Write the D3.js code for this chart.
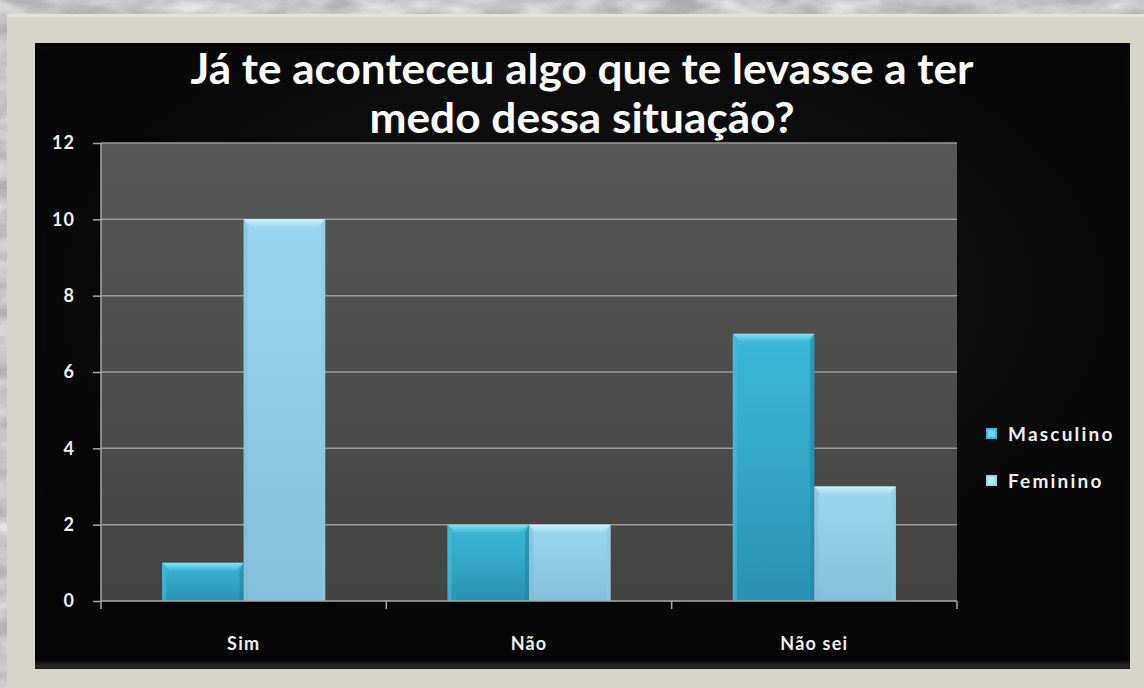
<!DOCTYPE html>
<html>
<head>
<meta charset="utf-8">
<script src="https://cdn.jsdelivr.net/npm/d3@7/dist/d3.min.js"></script>
<style>
  html, body { margin: 0; padding: 0; background: #a9a9a9; }
  svg { display: block; }
  text { font-family: Lato, "Open Sans", sans-serif; }
</style>
</head>
<body>
<svg id="chart" width="1144" height="688"></svg>
<script>
// Survey answers by gender
const categories = ["Sim", "Não", "Não sei"];
const series = ["Masculino", "Feminino"];
const masculino = [1, 2, 7];
const feminino = [10, 2, 3];
const yTicks = [0, 2, 4, 6, 8, 10, 12];
const titleLines = ["Já te aconteceu algo que te levasse a ter", "medo dessa situação?"];

const W = 1144, H = 688;
const plot = { left: 101, right: 957, top: 143, bottom: 601 };

const svg = d3.select("#chart");
const defs = svg.append("defs");

// marbled backdrop texture
const marble = defs.append("filter").attr("id", "marble")
  .attr("x", 0).attr("y", 0).attr("width", "100%").attr("height", "100%");
marble.append("feTurbulence").attr("type", "fractalNoise")
  .attr("baseFrequency", "0.02 0.05").attr("numOctaves", 4).attr("seed", 7).attr("result", "n");
marble.append("feColorMatrix").attr("in", "n").attr("type", "matrix")
  .attr("values", "0 0 0 0 0.9  0 0 0 0 0.9  0 0 0 0 0.9  0 0 0 -1.3 1.0");
svg.append("rect").attr("width", W).attr("height", H).attr("fill", "#adadad");
svg.append("rect").attr("width", W).attr("height", H).attr("fill", "#fff").attr("filter", "url(#marble)");

// light frame and black chart panel
svg.append("rect").attr("x", 7).attr("y", 14).attr("width", W - 7).attr("height", H - 14).attr("fill", "#d7d4cc");
svg.append("rect").attr("x", 7).attr("y", 14).attr("width", W - 7).attr("height", 3).attr("fill", "#e6e3dc");

const panel = { x: 35, y: 43, w: 1095, h: 626 };
svg.append("rect").attr("x", panel.x).attr("y", panel.y).attr("width", panel.w).attr("height", panel.h).attr("fill", "#060606");
const bottomGrad = defs.append("linearGradient").attr("id", "bottomGrad").attr("x1", 0).attr("y1", 0).attr("x2", 0).attr("y2", 1);
bottomGrad.append("stop").attr("offset", "0").attr("stop-color", "#060606");
bottomGrad.append("stop").attr("offset", "0.7").attr("stop-color", "#2a2a2a");
bottomGrad.append("stop").attr("offset", "1").attr("stop-color", "#1a1a1a");
svg.append("rect").attr("x", panel.x).attr("y", panel.y + panel.h - 9).attr("width", panel.w).attr("height", 9).attr("fill", "url(#bottomGrad)");
const innerGrad = defs.append("radialGradient").attr("id", "innerGrad").attr("cx", 0.5).attr("cy", 0.4).attr("r", 0.6);
innerGrad.append("stop").attr("offset", "0").attr("stop-color", "#161616");
innerGrad.append("stop").attr("offset", "1").attr("stop-color", "#050505");
svg.append("rect").attr("x", panel.x + 8).attr("y", panel.y + 8).attr("width", panel.w - 16).attr("height", panel.h - 20).attr("fill", "url(#innerGrad)");

// plot area background
const plotGrad = defs.append("linearGradient").attr("id", "plotGrad").attr("x1", 0).attr("y1", 0).attr("x2", 0).attr("y2", 1);
plotGrad.append("stop").attr("offset", "0").attr("stop-color", "#575757");
plotGrad.append("stop").attr("offset", "1").attr("stop-color", "#434343");
svg.append("rect").attr("x", plot.left).attr("y", plot.top)
  .attr("width", plot.right - plot.left).attr("height", plot.bottom - plot.top).attr("fill", "url(#plotGrad)");

// scales
const x0 = d3.scaleBand().domain(categories).range([plot.left, plot.right]).paddingInner(0).paddingOuter(0);
const gapRatio = 1.5;
const groupW = x0.bandwidth() * series.length / (series.length + gapRatio);
const x1 = d3.scaleBand().domain(series)
  .range([(x0.bandwidth() - groupW) / 2, (x0.bandwidth() + groupW) / 2]).padding(0);
const y = d3.scaleLinear().domain([0, 12]).range([plot.bottom, plot.top]);

// gridlines
svg.append("g").selectAll("line").data(yTicks.filter(t => t > 0)).join("line")
  .attr("x1", plot.left).attr("x2", plot.right)
  .attr("y1", d => y(d)).attr("y2", d => y(d))
  .attr("stroke", "#9a9a9a").attr("stroke-width", 1.5);

// bar fills
const palettes = {
  Masculino: { top: "#3cb8d8", bottom: "#2a92b2", edgeL: "#43bfdd", edgeR: "#2384a3", bevel: "#7fe6f7" },
  Feminino:  { top: "#9ad6f0", bottom: "#84c0da", edgeL: "#7fbcd6", edgeR: "#8ec9e2", bevel: "#c9f4fd" }
};
series.forEach((s, i) => {
  const p = palettes[s];
  const g = defs.append("linearGradient").attr("id", "bar" + i).attr("x1", 0).attr("y1", 0).attr("x2", 0).attr("y2", 1);
  g.append("stop").attr("offset", "0").attr("stop-color", p.top);
  g.append("stop").attr("offset", "1").attr("stop-color", p.bottom);
  const b = defs.append("linearGradient").attr("id", "bev" + i).attr("x1", 0).attr("y1", 0).attr("x2", 0).attr("y2", 1);
  b.append("stop").attr("offset", "0").attr("stop-color", p.bevel);
  b.append("stop").attr("offset", "1").attr("stop-color", p.top);
});

const values = { Masculino: masculino, Feminino: feminino };
const bars = [];
categories.forEach((c, ci) => {
  series.forEach((s, si) => bars.push({ c, s, si, v: values[s][ci] }));
});

const bevel = 8;
const barG = svg.append("g");
bars.forEach(d => {
  const p = palettes[d.s];
  const bx = x0(d.c) + x1(d.s);
  const bw = x1.bandwidth();
  const by = y(d.v);
  const bh = y(0) - by;
  const g = barG.append("g");
  g.append("rect").attr("x", bx).attr("y", by).attr("width", bw).attr("height", bh).attr("fill", "url(#bar" + d.si + ")");
  // side bevels
  g.append("polygon").attr("points", [[bx, by], [bx + 4, by + bevel], [bx + 4, y(0)], [bx, y(0)]].join(" "))
    .attr("fill", p.edgeL).attr("opacity", 0.6);
  g.append("polygon").attr("points", [[bx + bw, by], [bx + bw - 4, by + bevel], [bx + bw - 4, y(0)], [bx + bw, y(0)]].join(" "))
    .attr("fill", p.edgeR).attr("opacity", 0.6);
  // top bevel
  g.append("polygon").attr("points", [[bx, by], [bx + bw, by], [bx + bw - bevel, by + bevel], [bx + bevel, by + bevel]].join(" "))
    .attr("fill", "url(#bev" + d.si + ")");
});

// axes
const axisColor = "#a8a8a8";
svg.append("line").attr("x1", plot.left).attr("x2", plot.left).attr("y1", plot.top).attr("y2", plot.bottom + 8)
  .attr("stroke", axisColor).attr("stroke-width", 1.5);
svg.append("line").attr("x1", plot.left).attr("x2", plot.right).attr("y1", plot.bottom).attr("y2", plot.bottom)
  .attr("stroke", axisColor).attr("stroke-width", 1.5);

const yAxis = d3.axisLeft(y).tickValues(yTicks).tickSize(8).tickPadding(18).tickFormat(d3.format("d"));
const yg = svg.append("g").attr("transform", `translate(${plot.left},0)`).call(yAxis);
yg.select(".domain").remove();
yg.selectAll(".tick line").attr("stroke", axisColor).attr("stroke-width", 1.5);
yg.selectAll(".tick text").attr("fill", "#f0f0f0").attr("font-size", 18).attr("font-weight", 700)
  .attr("font-family", "Lato, sans-serif").attr("letter-spacing", 1);

// category boundary ticks
svg.append("g").selectAll("line").data(categories).join("line")
  .attr("x1", d => x0(d) + x0.bandwidth()).attr("x2", d => x0(d) + x0.bandwidth())
  .attr("y1", plot.bottom).attr("y2", plot.bottom + 8)
  .attr("stroke", axisColor).attr("stroke-width", 1.5);

svg.append("g").selectAll("text").data(categories).join("text")
  .attr("x", d => x0(d) + x0.bandwidth() / 2).attr("y", 650)
  .attr("text-anchor", "middle").attr("fill", "#f0f0f0")
  .attr("font-size", 18).attr("font-weight", 700).attr("letter-spacing", 1.2)
  .text(d => d);

// title, fitted to the width of each line
const titleY = [84, 133];
const titleW = [783, 425];
svg.append("g").selectAll("text").data(titleLines).join("text")
  .attr("x", 582).attr("y", (d, i) => titleY[i]).attr("text-anchor", "middle")
  .attr("fill", "#ffffff").attr("font-size", 42).attr("font-weight", 700)
  .attr("textLength", (d, i) => titleW[i]).attr("lengthAdjust", "spacingAndGlyphs")
  .text(d => d);

// legend
const legend = svg.append("g");
series.forEach((s, i) => {
  const p = palettes[s];
  const ly = 434 + i * 47;
  legend.append("rect").attr("x", 986).attr("y", ly - 6).attr("width", 11).attr("height", 11).attr("fill", p.top);
  legend.append("rect").attr("x", 988).attr("y", ly - 4).attr("width", 7).attr("height", 7).attr("fill", p.bevel).attr("opacity", 0.7);
  legend.append("text").attr("x", 1008).attr("y", ly + 7).attr("fill", "#f0f0f0")
    .attr("font-size", 19).attr("font-weight", 700).attr("letter-spacing", 2.2).text(s);
});
</script>
</body>
</html>
